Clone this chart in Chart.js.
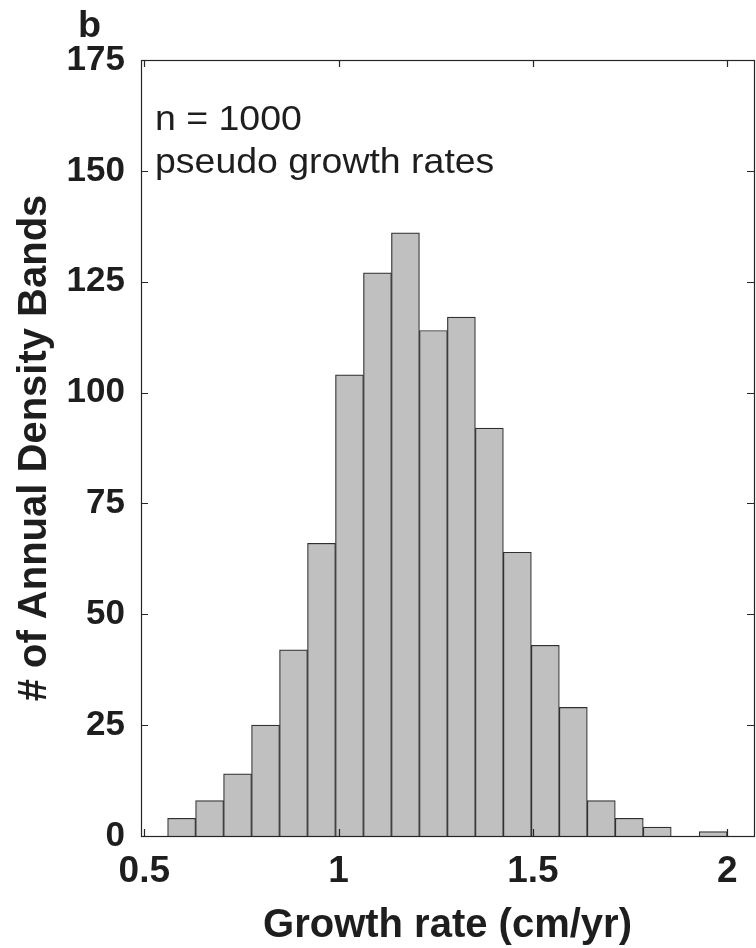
<!DOCTYPE html>
<html>
<head>
<meta charset="utf-8">
<script src="https://cdn.jsdelivr.net/npm/chart.js@4/dist/chart.umd.min.js"></script>
<style>
  html, body { margin: 0; padding: 0; background: #ffffff; }
  #wrap { position: relative; width: 756px; height: 948px; }
</style>
</head>
<body>
<div id="wrap"><canvas id="c" width="756" height="948"></canvas></div>
<script>
// ---- data ----
const binEdges = [0.560, 0.632, 0.704, 0.776, 0.848, 0.920, 0.992, 1.064, 1.136, 1.208,
                  1.280, 1.352, 1.424, 1.496, 1.568, 1.640, 1.712, 1.784, 1.856, 1.928, 2.000];
const counts   = [4, 8, 14, 25, 42, 66, 104, 127, 136, 114,
                  117, 92, 64, 43, 29, 8, 4, 2, 0, 1];
const xTickValues = [0.5, 1, 1.5, 2];
const yTickValues = [0, 25, 50, 75, 100, 125, 150, 175];
const xRange = [0.4915, 2.069];
const yRange = [0, 175];
const panelLabel = 'b';
const noteLines = ['n = 1000', 'pseudo growth rates'];
const xTitle = 'Growth rate (cm/yr)';
const yTitle = '# of Annual Density Bands';

const FONT = '"Liberation Sans", Arial, Helvetica, sans-serif';
const INK = '#1e1e1e';

const points = counts.map((c, i) => ({ x: (binEdges[i] + binEdges[i + 1]) / 2, y: c }));

const framePlugin = {
  id: 'frame',
  afterDatasetsDraw(chart) {
    const { ctx, chartArea: a, scales: { x, y } } = chart;
    ctx.save();
    ctx.strokeStyle = '#262626';
    ctx.lineWidth = 1.2;
    ctx.strokeRect(Math.round(a.left) + 0.5, Math.round(a.top) + 0.5,
                   Math.round(a.right - a.left), Math.round(a.bottom - a.top));
    const L = 7;
    ctx.beginPath();
    xTickValues.forEach(v => {
      const px = Math.round(x.getPixelForValue(v)) + 0.5;
      ctx.moveTo(px, a.bottom); ctx.lineTo(px, a.bottom - L);
      ctx.moveTo(px, a.top); ctx.lineTo(px, a.top + L);
    });
    yTickValues.forEach(v => {
      const py = Math.round(y.getPixelForValue(v)) + 0.5;
      ctx.moveTo(a.left, py); ctx.lineTo(a.left + L, py);
      ctx.moveTo(a.right, py); ctx.lineTo(a.right - L, py);
    });
    ctx.stroke();

    // panel label and annotation text (slightly wide, as in the reference)
    ctx.fillStyle = INK;
    ctx.textBaseline = 'alphabetic';
    ctx.textAlign = 'left';
    ctx.save();
    ctx.translate(78, 37);
    ctx.scale(1.05, 1);
    ctx.font = 'bold 36px ' + FONT;
    ctx.fillText(panelLabel, 0, 0);
    ctx.restore();
    ctx.save();
    ctx.translate(155, 0);
    ctx.scale(1.07, 1);
    ctx.font = '35px ' + FONT;
    ctx.fillText(noteLines[0], 0, 130);
    ctx.fillText(noteLines[1], 0, 173);
    ctx.restore();
    ctx.restore();
  }
};

new Chart(document.getElementById('c'), {
  type: 'bar',
  data: {
    datasets: [{
      data: points,
      backgroundColor: '#c0c0c0',
      borderColor: '#303030',
      borderWidth: 1.2,
      borderSkipped: 'bottom',
      barPercentage: 1.0,
      categoryPercentage: 1.0,
      grouped: false
    }]
  },
  options: {
    responsive: false,
    animation: false,
    layout: { padding: { top: 60, right: 2, left: 0, bottom: 0 } },
    plugins: { legend: { display: false }, tooltip: { enabled: false } },
    scales: {
      x: {
        type: 'linear',
        min: xRange[0],
        max: xRange[1],
        offset: false,
        afterBuildTicks: s => { s.ticks = xTickValues.map(v => ({ value: v })); },
        afterFit: s => { s.height = 112; },
        ticks: {
          color: INK,
          font: { family: FONT, size: 37, weight: 'bold' },
          padding: 14,
          maxRotation: 0,
          autoSkip: false,
          callback: v => String(v)
        },
        grid: { display: false, drawTicks: false },
        border: { display: false },
        title: {
          display: true,
          text: xTitle,
          color: INK,
          font: { family: FONT, size: 40, weight: 'bold', lineHeight: 1 },
          padding: { top: 0, bottom: 2 }
        }
      },
      y: {
        type: 'linear',
        min: yRange[0],
        max: yRange[1],
        afterBuildTicks: s => { s.ticks = yTickValues.map(v => ({ value: v })); },
        afterFit: s => { s.width = 141; },
        ticks: {
          color: INK,
          font: { family: FONT, size: 35, weight: 'bold' },
          padding: 16
        },
        grid: { display: false, drawTicks: false },
        border: { display: false },
        title: {
          display: true,
          text: yTitle,
          color: INK,
          font: { family: FONT, size: 40, weight: 'bold', lineHeight: 1 },
          padding: { top: 15, bottom: 0 }
        }
      }
    }
  },
  plugins: [framePlugin]
});
</script>
</body>
</html>
